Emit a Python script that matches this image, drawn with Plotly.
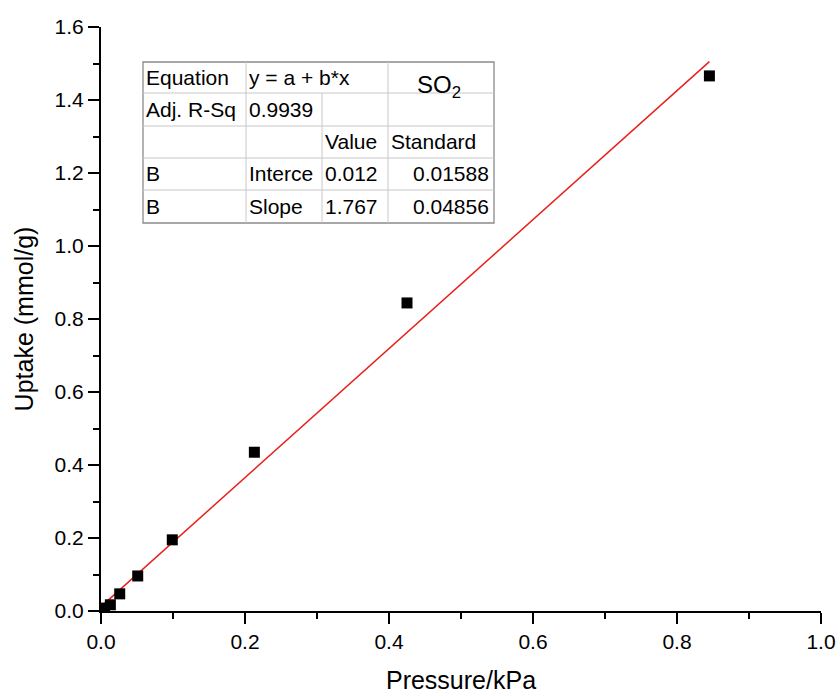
import plotly.graph_objects as go

# Measured SO2 uptake isotherm points
pressure = [0.005, 0.013, 0.026, 0.051, 0.099, 0.213, 0.425, 0.845]
uptake = [0.008, 0.017, 0.047, 0.096, 0.195, 0.435, 0.844, 1.466]

# Linear fit parameters y = a + b*x
intercept = 0.012
slope = 1.767

fit_x = [min(pressure), max(pressure)]
fit_y = [intercept + slope * x for x in fit_x]

# Fit summary table content
table_rows = [
    ["Equation", "y = a + b*x", "", "SO<sub>2</sub>"],
    ["Adj. R-Sq", "0.9939", "", ""],
    ["", "", "Value", "Standard"],
    ["B", "Interce", "0.012", "0.01588"],
    ["B", "Slope", "1.767", "0.04856"],
]

FONT = "Liberation Sans, Arial, sans-serif"

W, H = 840, 696
L, R, T, B = 101, 19, 27, 85
PW, PH = W - L - R, H - T - B


def px(x):
    return (x - L) / PW


def py(y):
    return (H - B - y) / PH


fig = go.Figure()

fig.add_trace(go.Scatter(
    x=fit_x, y=fit_y, mode="lines",
    line=dict(color="#e8201c", width=1.5),
    showlegend=False, hoverinfo="skip",
))
fig.add_trace(go.Scatter(
    x=pressure, y=uptake, mode="markers",
    marker=dict(symbol="square", size=11, color="black", line=dict(width=0)),
    showlegend=False,
))

# Table grid geometry (pixels)
col_edges = [143, 246, 322, 388, 494]
row_edges = [62, 93, 126, 158, 190, 223]
grid = "#c8c8c8"
shapes = []
shapes.append(dict(type="rect", xref="paper", yref="paper",
                   x0=px(col_edges[0]), x1=px(col_edges[-1]),
                   y0=py(row_edges[0]), y1=py(row_edges[-1]),
                   line=dict(color="#8a8a8a", width=1.3), fillcolor="rgba(0,0,0,0)"))
for yy in row_edges[1:-1]:
    shapes.append(dict(type="line", xref="paper", yref="paper",
                       x0=px(col_edges[0]), x1=px(col_edges[-1]),
                       y0=py(yy), y1=py(yy), line=dict(color=grid, width=1)))
shapes.append(dict(type="line", xref="paper", yref="paper",
                   x0=px(col_edges[1]), x1=px(col_edges[1]),
                   y0=py(row_edges[0]), y1=py(row_edges[-1]), line=dict(color=grid, width=1)))
shapes.append(dict(type="line", xref="paper", yref="paper",
                   x0=px(col_edges[2]), x1=px(col_edges[2]),
                   y0=py(row_edges[1]), y1=py(row_edges[-1]), line=dict(color=grid, width=1)))
shapes.append(dict(type="line", xref="paper", yref="paper",
                   x0=px(col_edges[3]), x1=px(col_edges[3]),
                   y0=py(row_edges[0]), y1=py(row_edges[-1]), line=dict(color=grid, width=1)))

annotations = []
font = dict(family=FONT, size=21, color="black")
for r, row in enumerate(table_rows):
    yc = (row_edges[r] + row_edges[r + 1]) / 2
    for c, txt in enumerate(row):
        if not txt:
            continue
        if r == 0 and c == 3:
            # SO2 label spanning the first two rows
            annotations.append(dict(xref="paper", yref="paper",
                                    x=px((col_edges[3] + col_edges[4]) / 2 - 2),
                                    y=py(87), text=txt, showarrow=False,
                                    xanchor="center", yanchor="middle",
                                    font=dict(family=FONT, size=24, color="black")))
            continue
        if r >= 3 and c == 3:
            x = px(col_edges[c + 1] - 3)
            anchor = "right"
        else:
            x = px(col_edges[c] + 1)
            anchor = "left"
        annotations.append(dict(xref="paper", yref="paper", x=x, y=py(yc),
                                text=txt, showarrow=False, xanchor=anchor,
                                yanchor="middle", font=font))

axis_common = dict(
    showline=True, linecolor="black", linewidth=2,
    ticks="outside", ticklen=11, tickwidth=2, tickcolor="black",
    showgrid=False, zeroline=False, mirror=False, automargin=False,
    tickfont=dict(family=FONT, size=21, color="black"),
    tickformat=".1f",
    minor=dict(ticks="outside", ticklen=6, tickwidth=2, tickcolor="black", dtick=0.1, showgrid=False),
)

fig.update_layout(
    width=W, height=H,
    margin=dict(l=L, r=R, t=T, b=B),
    paper_bgcolor="white", plot_bgcolor="white",
    shapes=shapes, annotations=annotations,
    xaxis=dict(range=[0, 1.0], dtick=0.2, tick0=0,
               title=dict(text="Pressure/kPa", standoff=19,
                          font=dict(family=FONT, size=25, color="black")),
               **axis_common),
    yaxis=dict(range=[0, 1.6], dtick=0.2, tick0=0,
               title=dict(text="Uptake (mmol/g)", standoff=14,
                          font=dict(family=FONT, size=25, color="black")),
               **axis_common),
)

fig.write_html("out.html")
